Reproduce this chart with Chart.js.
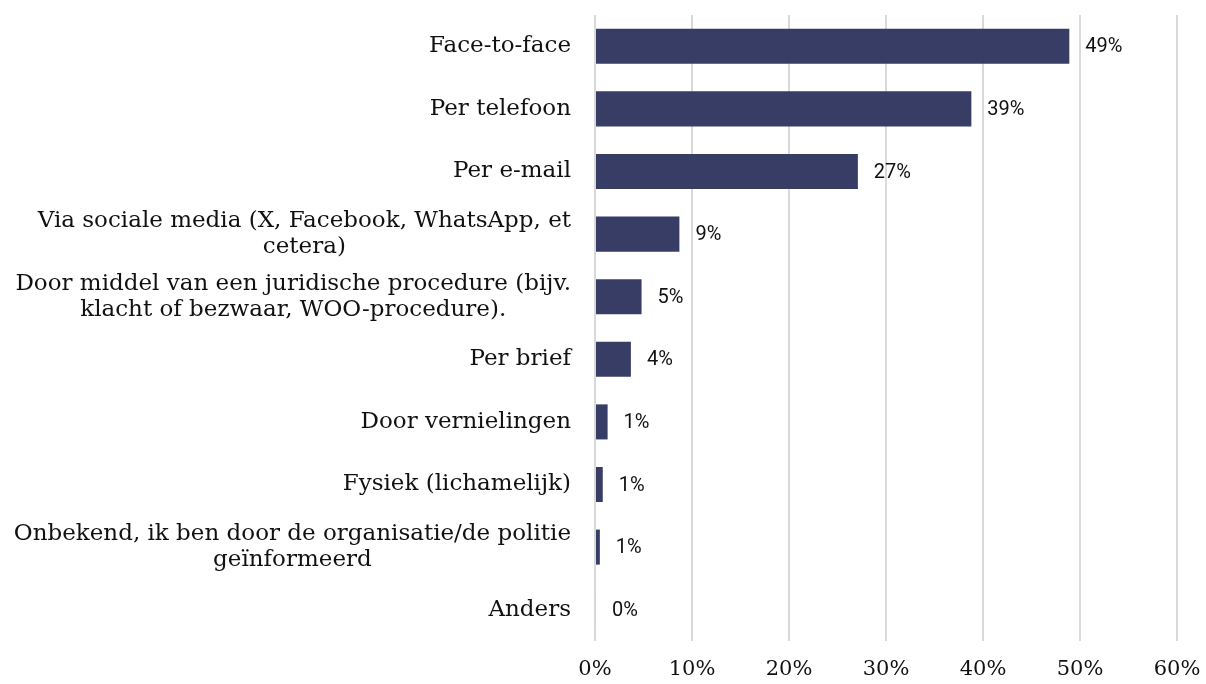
<!DOCTYPE html>
<html lang="nl">
<head>
  <meta charset="UTF-8" />
  <title>Kanalen</title>
  <script src="https://cdn.jsdelivr.net/npm/chart.js@4.4.1/dist/chart.umd.min.js"></script>
  <style>
    html, body { margin: 0; padding: 0; background: #fff; }
    #wrap { width: 1206px; height: 684px; }
  </style>
</head>
<body>
  <div id="wrap"><canvas id="chart"></canvas></div>

<script>
  // categories (multi-line labels as arrays)
  const categories = [
    ['Face-to-face'],
    ['Per telefoon'],
    ['Per e-mail'],
    ['Via sociale media (X, Facebook, WhatsApp, et', 'cetera)'],
    ['Door middel van een juridische procedure (bijv.', 'klacht of bezwaar, WOO-procedure).'],
    ['Per brief'],
    ['Door vernielingen'],
    ['Fysiek (lichamelijk)'],
    ['Onbekend, ik ben door de organisatie/de politie', 'geïnformeerd'],
    ['Anders']
  ];
  const shares = [48.9, 38.8, 27.1, 8.7, 4.8, 3.7, 1.3, 0.8, 0.5, 0.1];
  const xTicks = [0, 10, 20, 30, 40, 50, 60];

  const serif = '"DejaVu Serif", serif';
  const sans = 'Roboto, "Noto Sans", sans-serif';

  // draws the category labels: lines centred on each other, block flush to the axis
  const categoryLabels = {
    id: 'categoryLabels',
    afterDraw(chart) {
      const ctx = chart.ctx;
      const y = chart.scales.y;
      const right = chart.chartArea.left - 24;
      const lineH = 26;
      ctx.save();
      ctx.font = '23px ' + serif;
      ctx.fillStyle = '#111';
      ctx.textAlign = 'center';
      ctx.textBaseline = 'middle';
      categories.forEach((lines, i) => {
        const cy = y.getPixelForValue(i);
        const w = Math.max(...lines.map(l => ctx.measureText(l).width));
        const cx = right - w / 2;
        lines.forEach((l, j) => {
          ctx.fillText(l, cx, cy + (j - (lines.length - 1) / 2) * lineH);
        });
      });
      ctx.restore();
    }
  };

  // value labels right of each bar
  const valueLabels = {
    id: 'valueLabels',
    afterDatasetsDraw(chart) {
      const ctx = chart.ctx;
      const meta = chart.getDatasetMeta(0);
      ctx.save();
      ctx.font = '20px ' + sans;
      ctx.fillStyle = '#111';
      ctx.textAlign = 'left';
      ctx.textBaseline = 'middle';
      meta.data.forEach((bar, i) => {
        ctx.fillText(Math.round(shares[i]) + '%', bar.x + 16, bar.y + 1);
      });
      ctx.restore();
    }
  };

  new Chart(document.getElementById('chart'), {
    type: 'bar',
    data: {
      labels: categories.map(c => c.join(' ')),
      datasets: [{
        data: shares,
        backgroundColor: '#383d66',
        borderWidth: 0,
        barPercentage: 0.56,
        categoryPercentage: 1
      }]
    },
    options: {
      indexAxis: 'y',
      responsive: true,
      maintainAspectRatio: false,
      animation: false,
      layout: { padding: { top: 15, right: 29, left: 0, bottom: 0 } },
      plugins: {
        legend: { display: false },
        tooltip: { enabled: false }
      },
      scales: {
        x: {
          min: 0,
          max: 60,
          afterBuildTicks: s => { s.ticks = xTicks.map(v => ({ value: v })); },
          afterFit: s => {
            s.height = 43;
            s.paddingLeft = 0;
            s.paddingRight = 0;
          },
          grid: { color: '#d9d9d9', lineWidth: 2, drawTicks: false },
          border: { display: false },
          ticks: {
            padding: 16,
            color: '#111',
            font: { family: serif, size: 21 },
            callback: v => v + '%'
          }
        },
        y: {
          afterFit: s => { s.width = 595; },
          grid: { display: false },
          border: { display: false },
          ticks: { display: false }
        }
      }
    },
    plugins: [categoryLabels, valueLabels]
  });
</script>
</body>
</html>
